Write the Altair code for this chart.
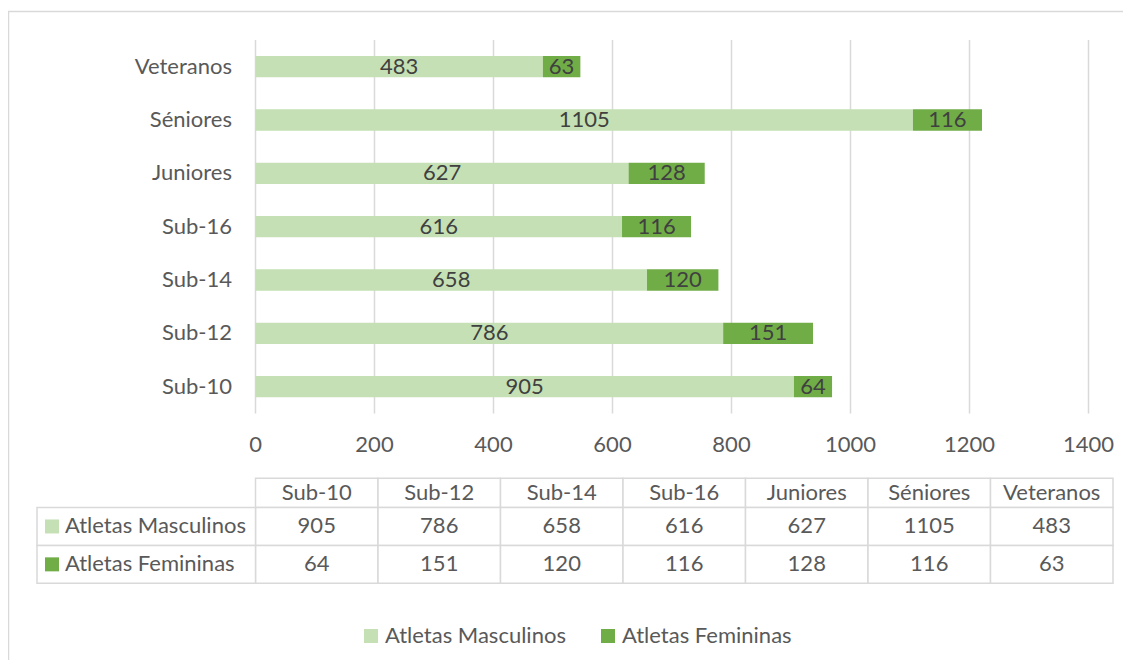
import altair as alt
import pandas as pd

# ---- data ----
categorias = ["Sub-10", "Sub-12", "Sub-14", "Sub-16", "Juniores", "Séniores", "Veteranos"]
masculinos = [905, 786, 658, 616, 627, 1105, 483]
femininas = [64, 151, 120, 116, 128, 116, 63]
series = ["Atletas Masculinos", "Atletas Femininas"]
cores = ["#C5E0B4", "#70AD47"]
ticks = [0, 200, 400, 600, 800, 1000, 1200, 1400]

FONT = "Lato"
FS = 22
LABEL = "#595959"
GRID = "#d9d9d9"

rows = []
for c, m, f in zip(categorias, masculinos, femininas):
    rows.append({"categoria": c, "serie": series[0], "valor": m, "ordem": 0})
    rows.append({"categoria": c, "serie": series[1], "valor": f, "ordem": 1})
df = pd.DataFrame(rows)
df_cat = pd.DataFrame({"categoria": categorias})
df_ticks = pd.DataFrame({"tick": ticks})
df_series = pd.DataFrame({"serie": series})

order_top = list(reversed(categorias))

xq = alt.Scale(domain=[0, 1400], range=[247.5, 1080.5], nice=False, zero=False)
yb = alt.Scale(domain=order_top, range=[32, 405.3], paddingInner=0.6, paddingOuter=0.3)
col_scale = alt.Scale(domain=series, range=cores)

# ---- bar chart group ----
grid = alt.Chart(df_ticks).mark_rule(color=GRID, strokeWidth=1.5).encode(
    x=alt.X("tick:Q", scale=xq, axis=None),
    y=alt.value(32), y2=alt.value(405.5),
)
tick_lbl = alt.Chart(df_ticks).mark_text(font=FONT, fontSize=FS, color=LABEL, baseline="middle").encode(
    x=alt.X("tick:Q", scale=xq, axis=None),
    y=alt.value(437),
    text="tick:Q",
)
stacked = alt.Chart(df).transform_stack(
    stack="valor", as_=["ini", "fim"], groupby=["categoria"], sort=[alt.SortField("ordem")]
).transform_calculate(meio="(datum.ini + datum.fim) / 2")

bars = stacked.mark_bar().encode(
    x=alt.X("ini:Q", scale=xq, axis=None),
    x2="fim:Q",
    y=alt.Y("categoria:N", scale=yb, axis=None),
    color=alt.Color("serie:N", scale=col_scale, legend=alt.Legend(
        orient="none", legendX=352, legendY=617, direction="horizontal", title=None,
        symbolType="square", symbolSize=196, symbolStrokeWidth=0, padding=0,
        labelFont=FONT, labelFontSize=FS, labelColor=LABEL, labelOffset=3,
        columnPadding=31, labelLimit=400,
    )),
    order=alt.Order("ordem:Q"),
)
bar_lbl = stacked.mark_text(font=FONT, fontSize=FS, color="#404040", baseline="middle").encode(
    x=alt.X("meio:Q", scale=xq, axis=None),
    y=alt.Y("categoria:N", scale=yb, axis=None),
    text="valor:Q",
)
cat_lbl = alt.Chart(df_cat).mark_text(font=FONT, fontSize=FS, color=LABEL, align="right", baseline="middle").encode(
    x=alt.value(224),
    y=alt.Y("categoria:N", scale=yb, axis=None),
    text="categoria:N",
)
bar_group = alt.layer(grid, bars, bar_lbl, tick_lbl, cat_lbl)

# ---- data table ----
tx = alt.Scale(domain=categorias, range=[247.5, 1105], paddingInner=0, paddingOuter=0)
hy = alt.Scale(domain=["cab"], range=[470.3, 499.5], paddingInner=0, paddingOuter=0)
ry = alt.Scale(domain=series, range=[499.5, 575.3], paddingInner=0, paddingOuter=0)

hdr_base = alt.Chart(df_cat).transform_calculate(linha="'cab'")
hdr_cells = hdr_base.mark_rect(fill="white", stroke=GRID, strokeWidth=1.5).encode(
    x=alt.X("categoria:N", scale=tx, axis=None),
    y=alt.Y("linha:N", scale=hy, axis=None),
)
hdr_text = hdr_base.mark_text(font=FONT, fontSize=FS, color=LABEL, baseline="middle").encode(
    x=alt.X("categoria:N", scale=tx, axis=None),
    y=alt.Y("linha:N", scale=hy, axis=None),
    text="categoria:N",
)
hdr_group = alt.layer(hdr_cells, hdr_text)

val_cells = alt.Chart(df).mark_rect(fill="white", stroke=GRID, strokeWidth=1.5).encode(
    x=alt.X("categoria:N", scale=tx, axis=None),
    y=alt.Y("serie:N", scale=ry, axis=None),
)
val_text = alt.Chart(df).mark_text(font=FONT, fontSize=FS, color=LABEL, baseline="middle").encode(
    x=alt.X("categoria:N", scale=tx, axis=None),
    y=alt.Y("serie:N", scale=ry, axis=None),
    text="valor:Q",
)
left_cells = alt.Chart(df_series).mark_rect(fill="white", stroke=GRID, strokeWidth=1.5).encode(
    x=alt.value(29), x2=alt.value(247.5),
    y=alt.Y("serie:N", scale=ry, axis=None),
)
left_sq = alt.Chart(df_series).mark_point(shape="square", filled=True, size=196, opacity=1).encode(
    x=alt.value(44),
    y=alt.Y("serie:N", scale=ry, axis=None),
    color=alt.Color("serie:N", scale=col_scale, legend=None),
)
left_text = alt.Chart(df_series).mark_text(font=FONT, fontSize=FS, color=LABEL, align="left", baseline="middle").encode(
    x=alt.value(57),
    y=alt.Y("serie:N", scale=ry, axis=None),
    text="serie:N",
)
row_group = alt.layer(val_cells, left_cells, val_text, left_sq, left_text)

border = alt.Chart(df_ticks.head(1)).mark_rect(fill="white", stroke=GRID, strokeWidth=1.5).encode(
    x=alt.value(0.5), x2=alt.value(1140), y=alt.value(3.5), y2=alt.value(680),
)

chart = alt.layer(border, bar_group, hdr_group, row_group).resolve_scale(
    x="independent", y="independent", color="independent"
).properties(
    width=1115, height=652, autosize=alt.AutoSizeParams(type="none"), padding=0,
).configure_view(stroke=None)

chart.save("out.html", embed_options={"renderer": "svg", "actions": False})
